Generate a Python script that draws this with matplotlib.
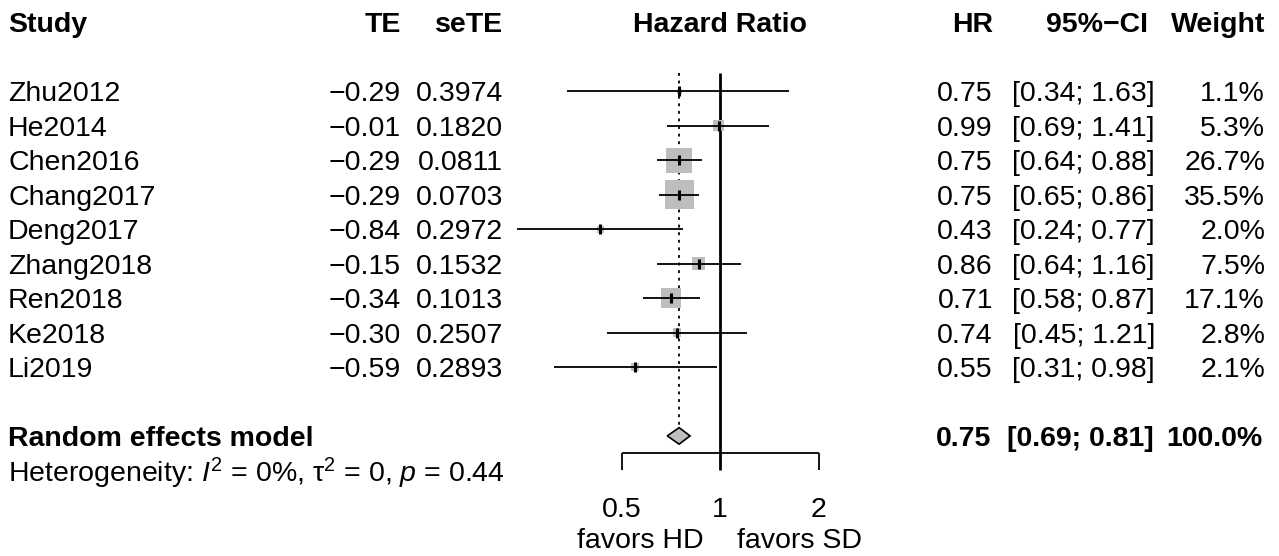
import matplotlib
matplotlib.use("Agg")
import matplotlib.pyplot as plt
import numpy as np

plt.rcParams['font.family'] = ['Liberation Sans', 'DejaVu Sans']
plt.rcParams['mathtext.fontset'] = 'custom'
plt.rcParams['mathtext.rm'] = 'Liberation Sans'
plt.rcParams['mathtext.it'] = 'Liberation Sans:italic'
plt.rcParams['mathtext.bf'] = 'Liberation Sans:bold'

# data
studies = ["Zhu2012", "He2014", "Chen2016", "Chang2017", "Deng2017",
           "Zhang2018", "Ren2018", "Ke2018", "Li2019"]
te = [-0.29, -0.01, -0.29, -0.29, -0.84, -0.15, -0.34, -0.30, -0.59]
se_te = [0.3974, 0.1820, 0.0811, 0.0703, 0.2972, 0.1532, 0.1013, 0.2507, 0.2893]
hr = [0.75, 0.99, 0.75, 0.75, 0.43, 0.86, 0.71, 0.74, 0.55]
ci_lo = [0.34, 0.69, 0.64, 0.65, 0.24, 0.64, 0.58, 0.45, 0.31]
ci_hi = [1.63, 1.41, 0.88, 0.86, 0.77, 1.16, 0.87, 1.21, 0.98]
weight = [1.1, 5.3, 26.7, 35.5, 2.0, 7.5, 17.1, 2.8, 2.1]
re_hr, re_lo, re_hi = 0.75, 0.69, 0.81
het_text = r"Heterogeneity: $I^2$ = 0%, $\mathrm{\tau}^2$ = 0, $p$ = 0.44"
ticks = [0.5, 1, 2]
tick_labels = ["0.5", "1", "2"]

def minus(s):
    return s.replace("-", "\u2212")

W, H = 1279, 556
fig = plt.figure(figsize=(W / 100, H / 100), dpi=100)
fs = 20.5

# rows: 0 = header, studies from 2, pooled at 12
row0, row_h = 22.5, 34.45
ylim = ((H - row0) / row_h, -row0 / row_h)

tx = fig.add_axes([0, 0, 1, 1])
tx.set_xlim(0, W)
tx.set_ylim(*ylim)
tx.axis("off")

# forest panel: x=1 at 720px, 98.5px per doubling
x1_px, per2 = 720, 98.5
xlo, xhi = 0.2, 2.5
l = x1_px + per2 * np.log2(xlo)
r = x1_px + per2 * np.log2(xhi)
fx = fig.add_axes([l / W, 0, (r - l) / W, 1])
fx.set_xscale("log")
fx.set_xlim(xlo, xhi)
fx.set_ylim(*ylim)
fx.axis("off")

rows = np.arange(len(studies)) + 2
re_row = 12

# header
kw = dict(fontsize=fs, fontweight="bold", va="center_baseline")
tx.text(8, 0, "Study", ha="left", **kw)
tx.text(401, 0, "TE", ha="right", **kw)
tx.text(503, 0, "seTE", ha="right", **kw)
fx.text(1, 0, "Hazard Ratio", ha="center", **kw)
tx.text(993, 0, "HR", ha="right", **kw)
tx.text(1148, 0, "95%\u2212CI", ha="right", **kw)
tx.text(1265, 0, "Weight", ha="right", **kw)

# study rows
kw = dict(fontsize=fs, va="center_baseline")
for i, y in enumerate(rows):
    tx.text(8, y, studies[i], ha="left", **kw)
    tx.text(401, y, minus(f"{te[i]:.2f}"), ha="right", **kw)
    tx.text(503, y, f"{se_te[i]:.4f}", ha="right", **kw)
    tx.text(993, y, f"{hr[i]:.2f}", ha="right", **kw)
    tx.text(1155, y, f"[{ci_lo[i]:.2f}; {ci_hi[i]:.2f}]", ha="right", **kw)
    tx.text(1265, y, f"{weight[i]:.1f}%", ha="right", **kw)

# pooled row
kw = dict(fontsize=fs, fontweight="bold", va="center_baseline")
tx.text(8, re_row, "Random effects model", ha="left", **kw)
tx.text(991, re_row, f"{re_hr:.2f}", ha="right", **kw)
tx.text(1154, re_row, f"[{re_lo:.2f}; {re_hi:.2f}]", ha="right", **kw)
tx.text(1263, re_row, "100.0%", ha="right", **kw)
tx.text(8, re_row + 0.95, het_text, ha="left", fontsize=fs, va="center_baseline")

# reference lines
fx.vlines(1, 1.47, 13, color="black", lw=2.0, zorder=2)
fx.vlines(re_hr, 1.47, re_row - 0.25, color="black", lw=1.3,
          linestyles=(0, (1.6, 2.6)), zorder=1)

# squares, CIs, point ticks
side_pt = 4.9 * np.sqrt(weight) * 72 / 100
fx.scatter(hr, rows, s=side_pt ** 2, marker="s", color="#bebebe",
           edgecolors="none", zorder=3)
fx.hlines(rows, ci_lo, ci_hi, color="black", lw=1.3, zorder=4)
fx.plot(hr, rows, ls="none", marker="|", ms=6.5, mew=2.2, color="black", zorder=5)

# diamond
fx.fill([re_lo, re_hr, re_hi, re_hr], [re_row, re_row - 0.24, re_row, re_row + 0.24],
        facecolor="#bebebe", edgecolor="black", lw=1.2, zorder=3)

# x axis
fx.hlines(12.5, ticks[0], ticks[-1], color="black", lw=1.3)
fx.vlines([ticks[0], ticks[-1]], 12.5, 13, color="black", lw=1.3)
for t, lab in zip(ticks, tick_labels):
    fx.text(t, 14.05, lab, ha="center", fontsize=fs, va="center_baseline")
fx.annotate("favors HD", (1, 14.97), xytext=(-12, 0), textcoords="offset points",
            ha="right", va="center_baseline", fontsize=fs)
fx.annotate("favors SD", (1, 14.97), xytext=(12, 0), textcoords="offset points",
            ha="left", va="center_baseline", fontsize=fs)

fig.savefig("out.png", dpi=100)
